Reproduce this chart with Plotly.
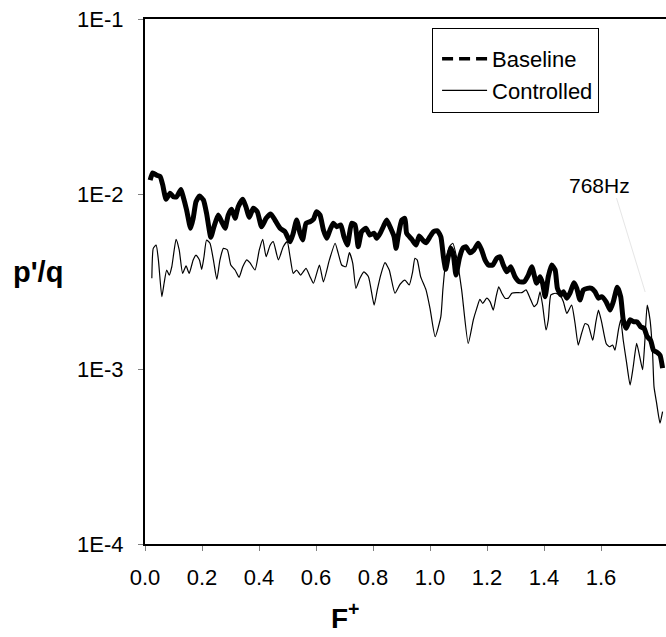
import plotly.graph_objects as go

# ---- data ----
base_F = [0.018, 0.027, 0.041, 0.053, 0.062, 0.074, 0.088, 0.099, 0.111, 0.126, 0.134, 0.146, 0.160, 0.169,
          0.179, 0.191, 0.205, 0.216, 0.231, 0.242, 0.257, 0.269, 0.281, 0.292, 0.304, 0.316, 0.327, 0.343,
          0.354, 0.366, 0.380, 0.394, 0.409, 0.425, 0.441, 0.456, 0.474, 0.491, 0.509, 0.520, 0.532, 0.544,
          0.553, 0.565, 0.579, 0.591, 0.602, 0.614, 0.626, 0.638, 0.649, 0.661, 0.673, 0.687, 0.698, 0.710,
          0.725, 0.737, 0.748, 0.760, 0.775, 0.789, 0.804, 0.813, 0.825, 0.836, 0.848, 0.862, 0.874, 0.881,
          0.889, 0.901, 0.912, 0.918, 0.936, 0.951, 0.962, 0.974, 0.986, 1.000, 1.012, 1.026, 1.038, 1.047,
          1.055, 1.064, 1.073, 1.082, 1.091, 1.103, 1.115, 1.126, 1.140, 1.154, 1.169, 1.181, 1.193, 1.205,
          1.220, 1.234, 1.246, 1.257, 1.269, 1.283, 1.298, 1.313, 1.330, 1.345, 1.357, 1.374, 1.386, 1.395,
          1.404, 1.415, 1.427, 1.439, 1.447, 1.459, 1.468, 1.480, 1.491, 1.505, 1.515, 1.526, 1.538, 1.552,
          1.567, 1.579, 1.591, 1.602, 1.618, 1.632, 1.643, 1.657, 1.669, 1.678, 1.688, 1.702, 1.716, 1.727,
          1.739, 1.751, 1.762, 1.774, 1.784, 1.795, 1.807, 1.816]
base_pq = [12.0e-3, 13.2e-3, 12.8e-3, 12.6e-3, 11.3e-3, 9.33e-3, 10.1e-3, 9.65e-3, 9.65e-3, 10.6e-3, 9.65e-3,
           8.10e-3, 6.37e-3, 7.26e-3, 9.04e-3, 9.74e-3, 9.24e-3, 7.76e-3, 5.66e-3, 6.50e-3, 7.58e-3, 6.94e-3,
           6.37e-3, 7.58e-3, 8.18e-3, 7.26e-3, 8.46e-3, 9.33e-3, 8.46e-3, 7.36e-3, 8.29e-3, 7.92e-3, 6.50e-3,
           7.26e-3, 7.69e-3, 7.10e-3, 6.37e-3, 6.09e-3, 5.34e-3, 5.96e-3, 7.10e-3, 5.96e-3, 5.46e-3, 6.80e-3,
           6.94e-3, 7.17e-3, 7.92e-3, 7.58e-3, 6.23e-3, 5.58e-3, 6.23e-3, 6.80e-3, 6.50e-3, 6.65e-3, 5.70e-3,
           5.11e-3, 6.80e-3, 6.65e-3, 5.00e-3, 6.09e-3, 6.37e-3, 5.83e-3, 5.96e-3, 5.58e-3, 5.96e-3, 6.50e-3,
           7.10e-3, 6.37e-3, 5.70e-3, 4.89e-3, 5.83e-3, 7.10e-3, 7.26e-3, 5.96e-3, 5.51e-3, 5.11e-3, 5.75e-3,
           5.46e-3, 5.27e-3, 5.70e-3, 6.09e-3, 6.17e-3, 5.70e-3, 4.38e-3, 3.71e-3, 4.38e-3, 4.89e-3, 4.48e-3,
           3.44e-3, 4.29e-3, 4.89e-3, 5.00e-3, 4.62e-3, 4.79e-3, 5.23e-3, 4.79e-3, 4.20e-3, 3.93e-3, 3.93e-3,
           4.29e-3, 4.38e-3, 3.93e-3, 3.59e-3, 3.84e-3, 3.37e-3, 3.15e-3, 3.15e-3, 3.44e-3, 3.84e-3, 3.09e-3,
           3.37e-3, 3.09e-3, 2.59e-3, 3.37e-3, 3.93e-3, 3.68e-3, 2.89e-3, 2.65e-3, 2.76e-3, 2.54e-3, 2.71e-3,
           3.11e-3, 2.89e-3, 2.48e-3, 2.83e-3, 2.89e-3, 2.89e-3, 2.76e-3, 2.54e-3, 2.59e-3, 2.42e-3, 2.17e-3,
           2.42e-3, 2.93e-3, 2.59e-3, 1.91e-3, 1.71e-3, 1.91e-3, 1.86e-3, 1.86e-3, 1.74e-3, 1.71e-3, 1.53e-3,
           1.46e-3, 1.28e-3, 1.25e-3, 1.20e-3, 1.01e-3]

ctrl_F = [0.024, 0.029, 0.039, 0.047, 0.059, 0.067, 0.076, 0.085, 0.094, 0.109, 0.120, 0.132, 0.144, 0.155,
          0.169, 0.179, 0.191, 0.199, 0.207, 0.216, 0.228, 0.240, 0.252, 0.263, 0.275, 0.289, 0.301, 0.316,
          0.330, 0.343, 0.357, 0.368, 0.386, 0.401, 0.413, 0.425, 0.439, 0.450, 0.468, 0.485, 0.499, 0.509,
          0.520, 0.532, 0.546, 0.565, 0.579, 0.591, 0.612, 0.626, 0.647, 0.667, 0.678, 0.690, 0.705, 0.717,
          0.729, 0.740, 0.754, 0.768, 0.784, 0.804, 0.815, 0.827, 0.842, 0.857, 0.877, 0.895, 0.912, 0.927,
          0.939, 0.947, 0.955, 0.967, 0.986, 1.000, 1.018, 1.038, 1.045, 1.053, 1.068, 1.080, 1.094, 1.111,
          1.134, 1.152, 1.164, 1.175, 1.185, 1.199, 1.211, 1.222, 1.232, 1.241, 1.252, 1.263, 1.275, 1.287,
          1.304, 1.322, 1.337, 1.351, 1.365, 1.376, 1.386, 1.395, 1.407, 1.415, 1.424, 1.439, 1.456, 1.468,
          1.480, 1.497, 1.509, 1.520, 1.532, 1.544, 1.555, 1.571, 1.582, 1.591, 1.602, 1.618, 1.629, 1.641,
          1.649, 1.661, 1.669, 1.678, 1.690, 1.702, 1.713, 1.725, 1.737, 1.746, 1.754, 1.762, 1.772, 1.781,
          1.786, 1.795, 1.807, 1.816]
ctrl_pq = [3.30e-3, 4.89e-3, 5.11e-3, 4.20e-3, 2.59e-3, 3.09e-3, 3.68e-3, 3.44e-3, 3.84e-3, 5.51e-3, 4.79e-3,
           3.52e-3, 3.88e-3, 3.52e-3, 4.20e-3, 4.48e-3, 4.20e-3, 3.71e-3, 4.38e-3, 5.46e-3, 5.23e-3, 4.20e-3,
           3.25e-3, 4.20e-3, 4.89e-3, 4.79e-3, 3.93e-3, 3.68e-3, 3.34e-3, 3.84e-3, 4.20e-3, 4.05e-3, 3.68e-3,
           4.79e-3, 5.51e-3, 4.38e-3, 5.10e-3, 5.34e-3, 4.20e-3, 5.00e-3, 5.34e-3, 4.38e-3, 3.52e-3, 3.68e-3,
           3.44e-3, 3.76e-3, 3.37e-3, 3.09e-3, 3.93e-3, 3.15e-3, 4.20e-3, 5.23e-3, 4.58e-3, 3.93e-3, 3.84e-3,
           4.62e-3, 4.02e-3, 2.89e-3, 3.30e-3, 3.59e-3, 3.37e-3, 2.32e-3, 2.83e-3, 3.44e-3, 4.05e-3, 3.68e-3,
           2.71e-3, 3.05e-3, 3.22e-3, 3.02e-3, 3.59e-3, 4.29e-3, 4.20e-3, 3.37e-3, 2.83e-3, 2.22e-3, 1.53e-3,
           1.99e-3, 2.83e-3, 3.84e-3, 5.00e-3, 5.23e-3, 4.29e-3, 2.83e-3, 1.40e-3, 1.91e-3, 2.22e-3, 2.50e-3,
           2.37e-3, 2.54e-3, 2.42e-3, 2.17e-3, 2.59e-3, 2.95e-3, 2.71e-3, 2.54e-3, 2.54e-3, 2.71e-3, 2.73e-3,
           2.73e-3, 2.83e-3, 2.54e-3, 2.27e-3, 2.37e-3, 2.76e-3, 2.32e-3, 1.67e-3, 1.91e-3, 2.65e-3, 2.71e-3,
           2.65e-3, 2.42e-3, 2.08e-3, 2.32e-3, 1.82e-3, 1.37e-3, 1.60e-3, 1.82e-3, 1.78e-3, 1.46e-3, 1.86e-3,
           2.17e-3, 1.86e-3, 1.40e-3, 1.34e-3, 1.37e-3, 1.28e-3, 1.67e-3, 1.91e-3, 1.46e-3, 1.08e-3, 0.81e-3,
           1.03e-3, 1.40e-3, 1.15e-3, 0.99e-3, 1.46e-3, 2.32e-3, 1.91e-3, 1.23e-3, 0.79e-3, 0.64e-3, 0.49e-3,
           0.57e-3]

x_ticks = [0.0, 0.2, 0.4, 0.6, 0.8, 1.0, 1.2, 1.4, 1.6]
x_ticktext = ["0.0", "0.2", "0.4", "0.6", "0.8", "1.0", "1.2", "1.4", "1.6"]
y_ticks = [1e-4, 1e-3, 1e-2, 1e-1]
y_ticktext = ["1E-4", "1E-3", "1E-2", "1E-1"]
series_names = ["Baseline", "Controlled"]
annotation_text = "768Hz"

FONT = "Liberation Sans, Arial, sans-serif"

fig = go.Figure()

# data traces (legend entries are drawn separately, as in the reference)
fig.add_trace(go.Scatter(x=base_F, y=base_pq, mode="lines", showlegend=False,
                         line=dict(color="black", width=5, shape="spline", smoothing=0.5)))
fig.add_trace(go.Scatter(x=ctrl_F, y=ctrl_pq, mode="lines", showlegend=False,
                         line=dict(color="black", width=1.2, shape="spline", smoothing=0.5)))
fig.add_trace(go.Scatter(x=[None], y=[None], mode="lines", name=series_names[0], legendgroup="a",
                         line=dict(color="black", width=3.5, dash="11px,6px")))
fig.add_trace(go.Scatter(x=[None], y=[None], mode="lines", name=series_names[1], legendgroup="b",
                         line=dict(color="black", width=1.2)))

fig.update_layout(
    width=666, height=637,
    margin=dict(l=145, r=0, t=19, b=93),
    paper_bgcolor="white", plot_bgcolor="white",
    font=dict(family=FONT, size=22, color="black"),
    legend=dict(x=0.551, y=0.983, xanchor="left", yanchor="top",
                bordercolor="black", borderwidth=1, bgcolor="white",
                font=dict(family=FONT, size=22, color="black"),
                title=dict(text=" ", font=dict(size=7)),
                tracegroupgap=0, itemwidth=45, indentation=4),
    xaxis=dict(range=[0, 1.828], tickvals=x_ticks, ticktext=x_ticktext,
               showgrid=False, zeroline=False, showline=True, linecolor="black", linewidth=1.5,
               mirror=True, ticks="outside", ticklen=5, tickcolor="#808080", tickwidth=1,
               ticklabelstandoff=8, tickfont=dict(size=22)),
    yaxis=dict(type="log", range=[-4, -1], tickvals=y_ticks, ticktext=y_ticktext,
               showgrid=False, zeroline=False, showline=True, linecolor="black", linewidth=2,
               ticks="outside", ticklen=5, tickcolor="#808080", tickwidth=1,
               ticklabelstandoff=10, tickfont=dict(size=22)),
    annotations=[
        dict(text="<b>p'/q</b>", xref="paper", yref="paper", x=-0.2054, y=0.518,
             xanchor="center", yanchor="middle", showarrow=False, font=dict(size=29)),
        dict(text="<b>F<sup>+</sup></b>", xref="paper", yref="paper", x=0.384, y=-0.137,
             xanchor="center", yanchor="middle", showarrow=False, font=dict(size=28)),
        dict(text=annotation_text, xref="paper", yref="paper", x=0.873, y=0.682,
             xanchor="center", yanchor="middle", showarrow=False, font=dict(size=21)),
    ],
    shapes=[
        dict(type="line", xref="paper", yref="paper", x0=0.905, y0=0.659, x1=0.960, y1=0.480,
             line=dict(color="#e6e6e6", width=1)),
    ],
)

fig.write_html("out.html", config={"displayModeBar": False},
               post_script="document.body.style.margin='0px';document.body.style.overflow='hidden';")
